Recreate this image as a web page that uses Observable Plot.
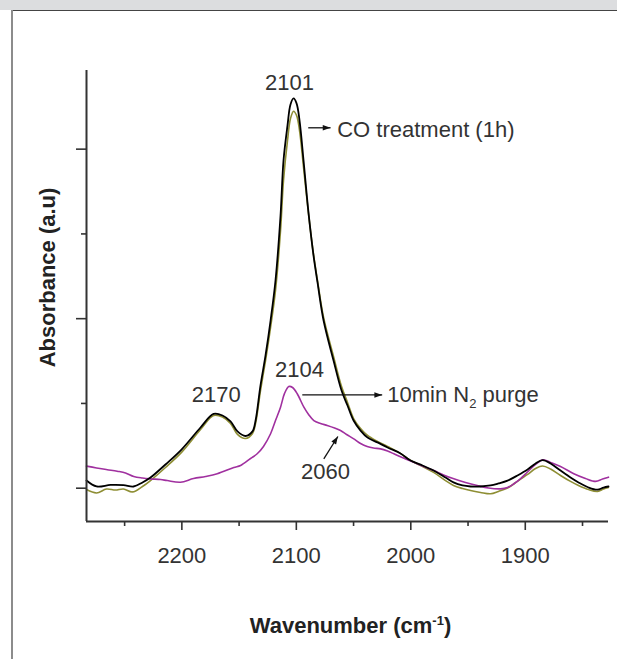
<!DOCTYPE html>
<html><head><meta charset="utf-8">
<script src="https://cdn.jsdelivr.net/npm/d3@7"></script>
<script src="https://cdn.jsdelivr.net/npm/@observablehq/plot@0.6"></script>
<style>
html,body{margin:0;padding:0;background:#fff;}
#wrap{position:relative;width:617px;height:659px;overflow:hidden;}
#chart{position:absolute;left:0;top:0;}
.band{position:absolute;left:0;top:0;width:617px;height:10px;background:#dcdddf;}
.topline{position:absolute;left:11px;top:10px;width:606px;height:1px;background:#444;}
.leftline{position:absolute;left:11px;top:10px;width:2px;height:649px;background:#8c8c8c;}
</style></head><body>
<div id="wrap"><div id="chart"></div><div class="band"></div><div class="topline"></div><div class="leftline"></div></div>
<script>
// ---- data (wavenumber in cm-1, absorbance in arbitrary units) ----
const wnBlack = [2283.3,2274.5,2262.3,2251.0,2242.2,2234.4,2227.4,2214.3,2200.3,2183.7,2172.3,2164.5,2157.5,2151.4,2144.4,2138.3,2135.6,2131.3,2126.9,2122.5,2118.2,2113.8,2111.2,2107.7,2105.1,2102.4,2099.8,2097.2,2093.7,2089.3,2085.0,2081.5,2076.2,2067.5,2060.5,2055.3,2050.0,2043.9,2037.8,2029.1,2020.3,2009.0,2000.2,1989.7,1980.1,1969.7,1962.7,1954.8,1947.8,1939.1,1930.3,1923.4,1915.5,1906.8,1898.0,1891.0,1884.9,1877.9,1869.2,1860.5,1853.5,1844.7,1836.9,1831.6,1827.3];
const absBlack = [0.045,0.010,0.019,0.018,0.010,0.034,0.063,0.140,0.228,0.358,0.438,0.429,0.394,0.335,0.308,0.335,0.399,0.606,0.783,0.989,1.225,1.609,1.933,2.140,2.264,2.299,2.270,2.169,1.933,1.621,1.373,1.214,0.989,0.753,0.576,0.488,0.399,0.340,0.299,0.270,0.240,0.205,0.163,0.134,0.104,0.063,0.034,0.016,0.010,0.010,0.016,0.028,0.045,0.075,0.110,0.146,0.166,0.146,0.104,0.063,0.034,0.004,-0.009,0.004,0.010];

const wnOlive = [2283.3,2274.5,2265.8,2258.0,2251.0,2243.1,2234.4,2227.4,2214.3,2200.3,2183.7,2172.3,2164.5,2157.5,2151.4,2144.4,2138.3,2135.6,2131.3,2126.9,2122.5,2118.2,2113.8,2111.2,2107.7,2105.1,2102.4,2099.8,2097.2,2093.7,2089.3,2085.0,2081.5,2076.2,2067.5,2060.5,2055.3,2050.0,2043.9,2037.8,2029.1,2020.3,2009.0,2000.2,1989.7,1980.1,1969.7,1962.7,1954.8,1947.8,1939.1,1930.3,1923.4,1915.5,1906.8,1898.0,1891.0,1884.9,1877.9,1869.2,1860.5,1853.5,1844.7,1836.9,1831.6,1827.3];
const absOlive = [-0.008,-0.028,-0.005,-0.011,-0.005,-0.022,0.010,0.045,0.122,0.211,0.346,0.429,0.420,0.382,0.317,0.293,0.323,0.382,0.576,0.753,0.948,1.166,1.520,1.815,2.051,2.181,2.224,2.199,2.110,1.892,1.615,1.379,1.225,1.007,0.777,0.600,0.506,0.411,0.352,0.311,0.276,0.246,0.205,0.163,0.128,0.093,0.045,0.016,-0.002,-0.014,-0.025,-0.033,-0.019,0.001,0.040,0.081,0.116,0.131,0.113,0.075,0.040,0.016,-0.008,-0.019,-0.005,0.004];

const wnPurple = [2283.3,2274.5,2265.2,2256.5,2249.2,2242.0,2234.4,2227.4,2218.6,2212.8,2201.2,2189.8,2179.3,2169.1,2154.6,2148.7,2140.0,2134.2,2128.7,2122.5,2118.2,2113.8,2110.3,2106.6,2103.3,2099.2,2093.4,2089.3,2084.7,2078.9,2073.0,2066.6,2061.4,2056.1,2049.8,2043.9,2038.1,2032.6,2026.4,2020.3,2014.8,2006.4,1997.4,1988.9,1979.9,1971.4,1962.4,1952.2,1942.0,1932.1,1921.6,1915.5,1910.0,1904.1,1898.3,1891.0,1884.5,1877.9,1869.2,1857.6,1847.4,1838.6,1832.5,1827.3];
const absPurple = [0.130,0.119,0.109,0.100,0.090,0.069,0.060,0.055,0.051,0.045,0.035,0.057,0.069,0.085,0.122,0.134,0.175,0.203,0.246,0.321,0.399,0.478,0.559,0.600,0.594,0.557,0.478,0.435,0.399,0.382,0.370,0.355,0.340,0.317,0.291,0.264,0.246,0.237,0.232,0.219,0.203,0.178,0.153,0.128,0.104,0.078,0.055,0.034,0.016,0.001,-0.004,0.004,0.026,0.057,0.094,0.140,0.168,0.152,0.128,0.085,0.057,0.040,0.054,0.065];

// axis ticks and labels
const xMajorTicks = [2200, 2100, 2000, 1900];
const xMinorTicks = [2250, 2150, 2050, 1950, 1850];
const yMajorTicks = [0, 1, 2];
const yMinorTicks = [0.5, 1.5];
const xDomain = [2283.3, 1827.3];
const yDomain = [-0.1965, 2.464];
const xLabel = "Wavenumber (cm-1)";
const yLabel = "Absorbance (a.u)";

// annotations (data coordinates)
const peakText = ["2101", "2170", "2104", "2060"];
const peakX = [2105.9, 2169.9, 2097.2, 2074.5];
const peakY = [2.388, 0.549, 0.696, 0.093];
const seriesText = ["CO treatment (1h)", "10min N2 purge"];
const seriesX = [2064.3, 2020.6];
const seriesY = [2.113, 0.549];
const arrowX1 = [2089.6, 2094.8, 2076.0];
const arrowY1 = [2.126, 0.550, 0.173];
const arrowX2 = [2070.1, 2025.0, 2063.7];
const arrowY2 = [2.126, 0.550, 0.305];

// ---- build tables ----
const toRows = (ws, as) => ws.map((w, i) => ({w, a: as[i]}));
const black = toRows(wnBlack, absBlack);
const olive = toRows(wnOlive, absOlive);
const purple = toRows(wnPurple, absPurple);
const peaks = peakText.map((t, i) => ({t, w: peakX[i], a: peakY[i]}));
const series = seriesText.map((t, i) => ({t, w: seriesX[i], a: seriesY[i]}));
const arrows = arrowX1.map((x1, i) => ({x1, y1: arrowY1[i], x2: arrowX2[i], y2: arrowY2[i]}));

const FONT = "'Liberation Sans', Arial, Helvetica, sans-serif";
const TXT = "#333333";

const plot = Plot.plot({
  width: 617, height: 659,
  marginLeft: 86, marginRight: 9, marginTop: 70, marginBottom: 138,
  style: {fontFamily: FONT, background: "transparent", overflow: "visible"},
  x: {domain: xDomain},
  y: {domain: yDomain},
  marks: [
    Plot.line(olive, {x: "w", y: "a", stroke: "#8e8e34", strokeWidth: 1.6, curve: "catmull-rom"}),
    Plot.line(purple, {x: "w", y: "a", stroke: "#a0309f", strokeWidth: 1.6, curve: "catmull-rom"}),
    Plot.line(black, {x: "w", y: "a", stroke: "#000000", strokeWidth: 1.8, curve: "catmull-rom"}),
    Plot.ruleX([xDomain[0]], {stroke: "#333", strokeWidth: 2}),
    Plot.ruleY([yDomain[0]], {stroke: "#333", strokeWidth: 2}),
    Plot.axisX({ticks: xMajorTicks, tickSize: 9, tickPadding: 17, fontSize: 22, tickFormat: d => String(d), label: null, stroke: "#333", strokeWidth: 1.6, color: TXT}),
    Plot.axisX({ticks: xMinorTicks, tickSize: 5, tickFormat: () => "", label: null, stroke: "#333", strokeWidth: 1.6}),
    Plot.axisY({ticks: yMajorTicks, tickSize: 10, tickFormat: () => "", label: null, stroke: "#333", strokeWidth: 1.6}),
    Plot.axisY({ticks: yMinorTicks, tickSize: 5, tickFormat: () => "", label: null, stroke: "#333", strokeWidth: 1.6}),
    Plot.text([yLabel], {text: d => d, frameAnchor: "left", textAnchor: "middle", lineAnchor: "middle", rotate: -90, dx: -39, dy: -18.5, fontSize: 22, fontWeight: "bold", fill: "#222"}),
    Plot.text([xLabel], {text: d => d, frameAnchor: "bottom", textAnchor: "middle", lineAnchor: "middle", dx: 3, dy: 104, fontSize: 22, fontWeight: "bold", fill: "#222"}),
    Plot.text(peaks, {x: "w", y: "a", text: "t", fontSize: 22, fill: TXT, textAnchor: "middle", lineAnchor: "middle"}),
    Plot.text(series, {x: "w", y: "a", text: "t", fontSize: 22, fill: TXT, textAnchor: "start", lineAnchor: "middle"}),
    Plot.link(arrows, {x1: "x1", y1: "y1", x2: "x2", y2: "y2", stroke: "#111", strokeWidth: 1.3, markerEnd: "arrow"})
  ]
});

// filled arrowheads
plot.querySelectorAll("marker").forEach(m => {
  const c = m.getAttribute("stroke") || "#111";
  m.setAttribute("fill", c);
  m.setAttribute("stroke", "none");
  m.setAttribute("overflow", "visible");
  const p = m.querySelector("path");
  if (p) p.setAttribute("d", "M-9,-3.2L0,0L-9,3.2Z");
});

// sub/superscripts as real text
plot.querySelectorAll("text").forEach(t => {
  const s = t.textContent;
  if (s === "10min N2 purge" || s === xLabel) {
    const isSub = s !== xLabel;
    const parts = isSub ? ["10min N", "2", " purge"] : ["Wavenumber (cm", "-1", ")"];
    const shift = isSub ? 6 : -8;
    t.textContent = "";
    parts.forEach((p, i) => {
      const ts = document.createElementNS("http://www.w3.org/2000/svg", "tspan");
      ts.textContent = p;
      if (i === 1) { ts.setAttribute("font-size", 13); ts.setAttribute("dy", shift); }
      if (i === 2) ts.setAttribute("dy", -shift);
      t.appendChild(ts);
    });
  }
});

document.getElementById("chart").appendChild(plot);
</script>
</body></html>
